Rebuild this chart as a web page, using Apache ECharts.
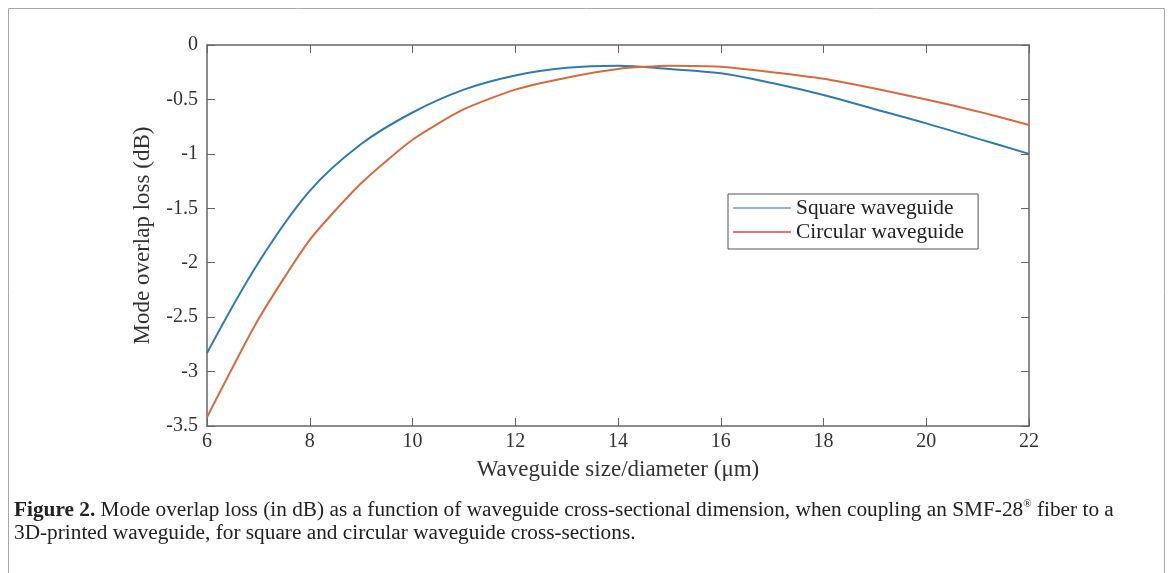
<!DOCTYPE html>
<html>
<head>
<meta charset="utf-8">
<title>Mode overlap loss</title>
<script src="https://cdn.jsdelivr.net/npm/echarts@6/dist/echarts.min.js"></script>
<style>
  html, body { margin: 0; padding: 0; background: #fff; }
  #chart { width: 1168px; height: 573px; }
</style>
</head>
<body>
<div id="chart"></div>
<script>
// Waveguide size / diameter (µm)
const sizes = [6, 7, 8, 9, 10, 11, 12, 13, 14, 15, 16, 17, 18, 19, 20, 21, 22];
// Mode overlap loss (dB), square cross-section
const squareLoss = [-2.83, -2.00, -1.34, -0.91, -0.62, -0.41, -0.28, -0.21, -0.19, -0.22, -0.26, -0.35, -0.46, -0.59, -0.72, -0.86, -1.00];
// Mode overlap loss (dB), circular cross-section
const circularLoss = [-3.42, -2.52, -1.79, -1.27, -0.87, -0.59, -0.41, -0.30, -0.22, -0.19, -0.20, -0.25, -0.31, -0.40, -0.50, -0.61, -0.735];

const seriesNames = ['Square waveguide', 'Circular waveguide'];
const xTitle = 'Waveguide size/diameter (μm)';
const yTitle = 'Mode overlap loss (dB)';
const captionLine1 = ' Mode overlap loss (in dB) as a function of waveguide cross-sectional dimension, when coupling an SMF-28';
const captionLine1End = ' fiber to a';
const captionLine2 = '3D-printed waveguide, for square and circular waveguide cross-sections.';

const serif = '"Liberation Serif", "Times New Roman", serif';
const axisColor = '#666';
const textColor = '#333';

const pairs = (xs, ys) => xs.map((x, i) => [x, ys[i]]);

const chart = echarts.init(document.getElementById('chart'), null, { renderer: 'canvas' });

const tickStyle = { inside: true, length: 8, lineStyle: { color: axisColor, width: 1 } };

chart.setOption({
  animation: false,
  backgroundColor: '#fff',
  grid: { left: 207, right: 139, top: 45, bottom: 147, containLabel: false },
  xAxis: [
    {
      type: 'value', position: 'bottom', min: 6, max: 22, interval: 2,
      name: xTitle, nameLocation: 'middle', nameGap: 32,
      nameTextStyle: { fontFamily: serif, fontSize: 23, color: textColor },
      axisLine: { show: true, onZero: false, lineStyle: { color: axisColor, width: 1.5 } },
      axisTick: tickStyle,
      axisLabel: { fontFamily: serif, fontSize: 20, color: textColor, margin: 6 },
      splitLine: { show: false }
    },
    {
      type: 'value', position: 'top', min: 6, max: 22, interval: 2,
      axisLine: { show: true, onZero: false, lineStyle: { color: axisColor, width: 1.5 } },
      axisTick: tickStyle,
      axisLabel: { show: false },
      splitLine: { show: false }
    }
  ],
  yAxis: [
    {
      type: 'value', position: 'left', min: -3.5, max: 0, interval: 0.5,
      name: yTitle, nameLocation: 'middle', nameGap: 53,
      nameTextStyle: { fontFamily: serif, fontSize: 23, color: textColor },
      axisLine: { show: true, onZero: false, lineStyle: { color: axisColor, width: 1.5 } },
      axisTick: tickStyle,
      axisLabel: { fontFamily: serif, fontSize: 20, color: textColor, margin: 9 },
      splitLine: { show: false }
    },
    {
      type: 'value', position: 'right', min: -3.5, max: 0, interval: 0.5,
      axisLine: { show: true, onZero: false, lineStyle: { color: axisColor, width: 1.5 } },
      axisTick: tickStyle,
      axisLabel: { show: false },
      splitLine: { show: false }
    }
  ],
  legend: {
    orient: 'vertical',
    left: 728, top: 194,
    padding: [3, 14, 6, 5],
    itemWidth: 58, itemHeight: 2, itemGap: 2,
    icon: 'rect',
    borderColor: '#555', borderWidth: 1, backgroundColor: '#fff',
    textStyle: { fontFamily: serif, fontSize: 21.4, color: '#222', lineHeight: 22 },
    data: [
      { name: seriesNames[0], icon: 'rect', itemStyle: { color: '#8db8da' } },
      { name: seriesNames[1], icon: 'rect', itemStyle: { color: '#e8737e' } }
    ]
  },
  series: [
    {
      name: seriesNames[0], type: 'line', xAxisIndex: 0, yAxisIndex: 0,
      data: pairs(sizes, squareLoss),
      smooth: 0.35, symbol: 'none', showSymbol: false,
      lineStyle: { color: '#2f7bb0', width: 2 }, itemStyle: { color: '#2f7bb0' }
    },
    {
      name: seriesNames[1], type: 'line', xAxisIndex: 0, yAxisIndex: 0,
      data: pairs(sizes, circularLoss),
      smooth: 0.2, symbol: 'none', showSymbol: false,
      lineStyle: { color: '#d66b3d', width: 2 }, itemStyle: { color: '#d66b3d' }
    }
  ],
  graphic: [
    {
      type: 'rect', silent: true, z: -10,
      shape: { x: 8.5, y: 8.5, width: 1156, height: 620 },
      style: { fill: 'none', stroke: '#a8a8a8', lineWidth: 1 }
    },
    {
      type: 'text', left: 14, top: 499,
      style: {
        text: '{b|Figure 2.}' + captionLine1 + '{sup|®}' + captionLine1End + '\n' + captionLine2,
        fontFamily: serif, fontSize: 21.3, fill: '#222', lineHeight: 23,
        rich: {
          b: { fontFamily: serif, fontSize: 21.3, fontWeight: 'bold', fill: '#222', lineHeight: 23 },
          sup: { fontFamily: serif, fontSize: 11, fill: '#222', verticalAlign: 'top', lineHeight: 23, padding: [0, 0, 9, 0] }
        }
      }
    }
  ]
});
</script>
</body>
</html>
